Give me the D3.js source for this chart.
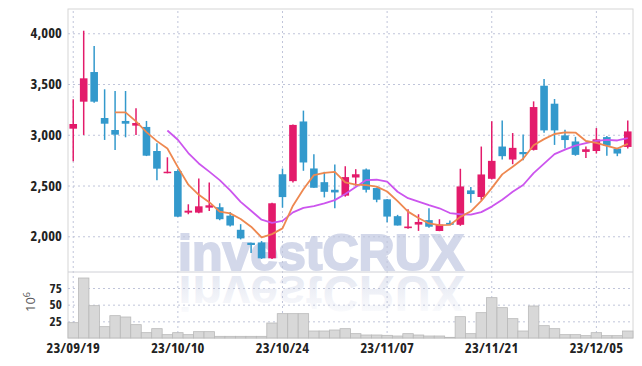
<!DOCTYPE html>
<html>
<head>
<meta charset="utf-8">
<script src="https://cdn.jsdelivr.net/npm/d3@7"></script>
<style>
  body { margin: 0; background: #fff; }
  svg { display: block; }
  .axis text { font-family: 'Open Sans', 'Roboto', sans-serif; font-stretch: 75%; font-weight: 700; font-size: 14.5px; fill: #222; letter-spacing: 0.1px; }
  .vol-axis text { font-size: 13px; }
  .grid line { stroke: #c0c5da; stroke-dasharray: 2,3; }
  .grid .domain { display: none; }
</style>
</head>
<body>
<div id="chart"></div>
<script>
// Trading days (yy/mm/dd)
const dates = [
  '23/09/19','23/09/20','23/09/21','23/09/22','23/09/25','23/09/26','23/09/27',
  '23/10/04','23/10/05','23/10/06','23/10/10','23/10/11','23/10/12','23/10/13',
  '23/10/16','23/10/17','23/10/18','23/10/19','23/10/20','23/10/23','23/10/24',
  '23/10/25','23/10/26','23/10/27','23/10/30','23/10/31','23/11/01','23/11/02',
  '23/11/03','23/11/06','23/11/07','23/11/08','23/11/09','23/11/10','23/11/13',
  '23/11/14','23/11/15','23/11/16','23/11/17','23/11/20','23/11/21','23/11/22',
  '23/11/23','23/11/24','23/11/27','23/11/28','23/11/29','23/11/30','23/12/01',
  '23/12/04','23/12/05','23/12/06','23/12/07','23/12/08'
]
const opens = [
  3060, 3326, 3618, 3165, 3047, 3136, 3090, 3077, 2840, 2624,
  2643, 2233, 2233, 2282, 2286, 2203, 2064, 1936, 1939, 1783,
  2611, 2543, 3131, 2668, 2533, 2458, 2400, 2579, 2658, 2475,
  2364, 2198, 2080, 2115, 2159, 2052, 2132, 2113, 2452, 2387,
  2566, 2884, 2756, 2830, 2851, 3483, 3306, 2994, 2934, 2831,
  2840, 2977, 2864, 2880
]
const highs = [
  3349, 4025, 3874, 3448, 3431, 3431, 3261, 3136, 2916, 2778,
  2660, 2315, 2569, 2530, 2325, 2240, 2119, 1936, 1953, 2330,
  2667, 3100, 3238, 2808, 2635, 2707, 2690, 2661, 2668, 2480,
  2367, 2211, 2266, 2217, 2276, 2168, 2155, 2665, 2485, 2884,
  3134, 3140, 3017, 3003, 3329, 3549, 3352, 3050, 2980, 2884,
  3066, 2987, 2871, 3140
]
const lows = [
  2739, 2998, 3316, 2949, 2850, 2975, 2998, 2790, 2552, 2620,
  2190, 2217, 2227, 2249, 2158, 2096, 1969, 1836, 1777, 1777,
  2282, 2530, 2645, 2478, 2383, 2277, 2390, 2498, 2432, 2335,
  2139, 2106, 2075, 2053, 2084, 2050, 2110, 2103, 2331, 2354,
  2560, 2756, 2710, 2750, 2845, 3020, 2900, 2864, 2793, 2772,
  2815, 2793, 2789, 2864
]
const closes = [
  3106, 3556, 3326, 3109, 3001, 3109, 3116, 2794, 2666, 2636,
  2193, 2252, 2295, 2305, 2168, 2106, 1979, 1914, 1783, 2325,
  2386, 3097, 2727, 2478, 2438, 2432, 2583, 2611, 2458, 2360,
  2194, 2106, 2096, 2141, 2094, 2115, 2113, 2491, 2416, 2609,
  2743, 2789, 2871, 2808, 3273, 3043, 3043, 2948, 2802, 2857,
  2955, 2892, 2815, 3033
]
// Volume in millions
const volumes = [
  23, 90, 48.5, 17, 33.5, 31.5, 20, 8, 14, 5,
  8, 5, 9.5, 9.5, 2.5, 2.5, 2.5, 2.5, 2.5, 22.5,
  36.5, 36.5, 36.5, 10.5, 10.5, 12, 14, 6.5, 4.5, 4.5,
  4, 3, 6.5, 4.5, 3, 3, 1, 32, 6.5, 38,
  60.5, 45.5, 29, 10.5, 48, 18.5, 14, 5, 5, 3.5,
  8, 3.5, 3.5, 10.5
]
const priceTicks = [2000, 2500, 3000, 3500, 4000]
const volumeTicks = [25, 50, 75]
const dateTicks = ['23/09/19', '23/10/10', '23/10/24', '23/11/07', '23/11/21', '23/12/05']

const data = dates.map((d, i) => ({
  date: d, open: opens[i], high: highs[i], low: lows[i], close: closes[i], volume: volumes[i]
}))

// moving averages of the closing price
function movingAvg(n) {
  return data.map((d, i) => i < n - 1 ? null : d3.mean(closes.slice(i - n + 1, i + 1)))
}
const ma5 = movingAvg(5)
const ma10 = movingAvg(10)

// Dimensions
const width = 642
const height = 366
const plotLeft = 68
const plotRight = 633
const plotTop = 9
const priceBottom = 272
const volBottom = 338

const svg = d3.select('#chart')
  .append('svg')
  .attr('width', width)
  .attr('height', height)

// Scales
const x = d3.scaleBand().domain(dates).range([plotLeft, plotRight])
const yPrice = d3.scaleLinear().domain([1648, 4239]).range([priceBottom, plotTop])
const yVol = d3.scaleLinear().domain([0, 99]).range([volBottom, priceBottom])
const cx = d => x(d) + x.bandwidth() / 2

// Watermark with reflection
const defs = svg.append('defs')
const grad = defs.append('linearGradient')
  .attr('id', 'fade')
  .attr('x1', 0).attr('y1', 0).attr('x2', 0).attr('y2', 1)
grad.append('stop').attr('offset', '0%').attr('stop-color', '#dde1ee').attr('stop-opacity', 0)
grad.append('stop').attr('offset', '100%').attr('stop-color', '#dde1ee').attr('stop-opacity', 0.95)

const wm = svg.append('g').attr('font-family', 'Liberation Sans, Arial, sans-serif')
  .attr('font-weight', 'bold').attr('font-size', 50)
wm.append('text')
  .attr('x', 178).attr('y', 270)
  .attr('fill', '#d3d8ea')
  .attr('stroke', '#d3d8ea')
  .attr('stroke-width', 2)
  .text('investCRUX')
wm.append('text')
  .attr('transform', 'translate(0, 546) scale(1, -1)')
  .attr('x', 178).attr('y', 270)
  .attr('fill', 'url(#fade)')
  .text('investCRUX')

// Frame
svg.append('rect')
  .attr('x', plotLeft).attr('y', plotTop)
  .attr('width', plotRight - plotLeft).attr('height', volBottom - plotTop)
  .attr('fill', 'none')
  .attr('stroke', '#d6d6d6')

// Horizontal gridlines
svg.append('g')
  .attr('class', 'grid')
  .attr('transform', `translate(${plotLeft}, 0)`)
  .call(d3.axisLeft(yPrice).tickValues(priceTicks).tickSize(-(plotRight - plotLeft)).tickFormat(''))
svg.append('g')
  .attr('class', 'grid')
  .attr('transform', `translate(${plotLeft}, 0)`)
  .call(d3.axisLeft(yVol).tickValues(volumeTicks).tickSize(-(plotRight - plotLeft)).tickFormat(''))

// Vertical gridlines
svg.append('g')
  .attr('class', 'grid')
  .attr('transform', `translate(0, ${volBottom})`)
  .call(d3.axisBottom(x).tickValues(dateTicks).tickSize(-(volBottom - plotTop)).tickFormat(''))

// Separator between the panels
svg.append('line')
  .attr('x1', plotLeft).attr('x2', plotRight)
  .attr('y1', priceBottom).attr('y2', priceBottom)
  .attr('stroke', '#cfd0d6')

// Volume bars
svg.append('g')
  .selectAll('rect')
  .data(data)
  .join('rect')
  .attr('x', d => x(d.date))
  .attr('y', d => yVol(d.volume))
  .attr('width', x.bandwidth())
  .attr('height', d => yVol(0) - yVol(d.volume))
  .attr('fill', '#d8d8d8')
  .attr('stroke', '#b9b9b9')
  .attr('stroke-width', 0.8)

// Candles
const up = '#e31b6b'
const down = '#3399cc'
const candles = svg.append('g')
  .selectAll('g')
  .data(data)
  .join('g')
candles.append('line')
  .attr('x1', d => cx(d.date)).attr('x2', d => cx(d.date))
  .attr('y1', d => yPrice(d.high)).attr('y2', d => yPrice(d.low))
  .attr('stroke', d => d.close >= d.open ? up : down)
  .attr('stroke-width', 1.5)
candles.append('rect')
  .attr('x', d => cx(d.date) - 3.8)
  .attr('width', 7.6)
  .attr('y', d => yPrice(Math.max(d.open, d.close)))
  .attr('height', d => Math.max(1.5, Math.abs(yPrice(d.open) - yPrice(d.close))))
  .attr('fill', d => d.close >= d.open ? up : down)

// Moving average lines
const maLine = d3.line()
  .defined(d => d[1] != null)
  .x(d => cx(d[0]))
  .y(d => yPrice(d[1]))

svg.append('path')
  .datum(dates.map((d, i) => [d, ma10[i]]))
  .attr('fill', 'none')
  .attr('stroke', '#cc55ee')
  .attr('stroke-width', 1.8)
  .attr('stroke-linejoin', 'round')
  .attr('d', maLine)

svg.append('path')
  .datum(dates.map((d, i) => [d, ma5[i]]))
  .attr('fill', 'none')
  .attr('stroke', '#ee8850')
  .attr('stroke-width', 1.8)
  .attr('stroke-linejoin', 'round')
  .attr('d', maLine)

// Left axis - price
svg.append('g')
  .attr('class', 'axis')
  .attr('transform', `translate(${plotLeft}, 0)`)
  .call(d3.axisLeft(yPrice).tickValues(priceTicks).tickSize(0).tickPadding(6).tickFormat(d3.format(',')))
  .select('.domain').remove()

// Left axis - volume
svg.append('g')
  .attr('class', 'axis vol-axis')
  .attr('transform', `translate(${plotLeft}, 0)`)
  .call(d3.axisLeft(yVol).tickValues(volumeTicks).tickSize(0).tickPadding(6))
  .select('.domain').remove()

// Bottom axis - dates
svg.append('g')
  .attr('class', 'axis')
  .attr('transform', `translate(0, ${volBottom})`)
  .call(d3.axisBottom(x).tickValues(dateTicks).tickSize(0).tickPadding(5))
  .select('.domain').remove()

// Volume unit label
const unit = svg.append('text')
  .attr('transform', 'translate(35, 302) rotate(-90)')
  .attr('text-anchor', 'middle')
  .attr('font-family', 'Open Sans, sans-serif')
  .attr('font-size', 13)
  .attr('fill', '#555')
unit.append('tspan').text('10')
unit.append('tspan').attr('dy', -5).attr('font-size', 9).text('6')
</script>
</body>
</html>
